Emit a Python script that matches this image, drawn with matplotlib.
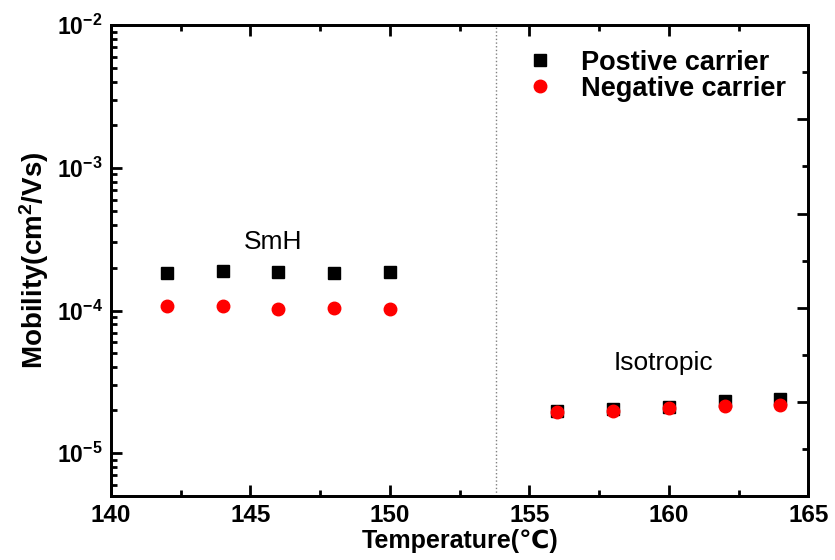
import matplotlib
matplotlib.use('Agg')
import matplotlib.pyplot as plt
from matplotlib.ticker import LogLocator, NullFormatter, MultipleLocator, FuncFormatter
import math as m

# data
temp_smh = [142, 144, 146, 148, 150]
temp_iso = [156, 158, 160, 162, 164]
pos_smh = [1.82e-4, 1.88e-4, 1.85e-4, 1.82e-4, 1.85e-4]
neg_smh = [1.08e-4, 1.08e-4, 1.03e-4, 1.05e-4, 1.02e-4]
pos_iso = [1.98e-5, 2.05e-5, 2.12e-5, 2.32e-5, 2.41e-5]
neg_iso = [1.94e-5, 1.99e-5, 2.07e-5, 2.14e-5, 2.18e-5]
transition_temp = 153.8

plt.rcParams['font.family'] = ['Liberation Sans', 'DejaVu Sans']
plt.rcParams['mathtext.fontset'] = 'custom'
plt.rcParams['mathtext.rm'] = 'Liberation Sans:bold'
plt.rcParams['mathtext.bf'] = 'Liberation Sans:bold'
plt.rcParams['mathtext.it'] = 'Liberation Sans:bold'

fig = plt.figure(figsize=(8.35, 5.6), dpi=100)
ax = fig.add_axes([0.133, 0.114, 0.835, 0.841])

temps = temp_smh + temp_iso
ax.plot(temps, pos_smh + pos_iso, 's', color='black', markersize=8, label='Postive carrier')
ax.plot(temps, neg_smh + neg_iso, 'o', color='red', markersize=9, label='Negative carrier')

ax.axvline(transition_temp, color='gray', linestyle=':', linewidth=1)

ax.set_yscale('log')
ax.set_xlim(140, 165)
ax.set_ylim(5e-6, 1e-2)
ax.xaxis.set_major_locator(MultipleLocator(5))
ax.xaxis.set_minor_locator(MultipleLocator(2.5))
ax.yaxis.set_major_locator(LogLocator(base=10))
ax.yaxis.set_minor_locator(LogLocator(base=10, subs=range(2, 10)))
ax.yaxis.set_minor_formatter(NullFormatter())
ax.yaxis.set_major_formatter(FuncFormatter(lambda v, p: '10$^{%d}$' % round(m.log10(v))))

for s in ax.spines.values():
    s.set_linewidth(2)
ax.tick_params(which='both', direction='in', width=2, top=True, right=False)
ax.tick_params(which='major', length=8, pad=6)
ax.tick_params(which='minor', length=4.5)
ax.tick_params(axis='x', labelsize=17.5)
ax.tick_params(axis='y', labelsize=16.5)
for lab in ax.get_xticklabels() + ax.get_yticklabels():
    lab.set_fontweight('bold')

# right axis has its own evenly spaced ticks
ax2 = ax.twinx()
ax2.set_ylim(0, 1)
ax2.yaxis.set_major_locator(MultipleLocator(0.2))
ax2.yaxis.set_minor_locator(MultipleLocator(0.1))
ax2.tick_params(which='both', direction='in', width=2, labelright=False)
ax2.tick_params(which='major', length=8)
ax2.tick_params(which='minor', length=4.5)
for s in ax2.spines.values():
    s.set_linewidth(2)

ax.set_xlabel('Temperature(\u2103)', fontsize=18, fontweight='bold', labelpad=1)
ax.set_ylabel('Mobility(cm$^2$/Vs)', fontsize=20, fontweight='bold', labelpad=4)

ax.text(145.8, 3.0e-4, 'SmH', fontsize=19, ha='center', va='center')
ax.text(159.8, 4.3e-5, 'Isotropic', fontsize=19, ha='center', va='center')

leg = ax.legend(loc='upper left', frameon=False, prop={'size': 19.5, 'weight': 'bold'},
                handletextpad=0.5, borderaxespad=0, borderpad=0, labelspacing=0,
                bbox_to_anchor=(0.577, 0.948))

fig.savefig('out.png', dpi=100)
